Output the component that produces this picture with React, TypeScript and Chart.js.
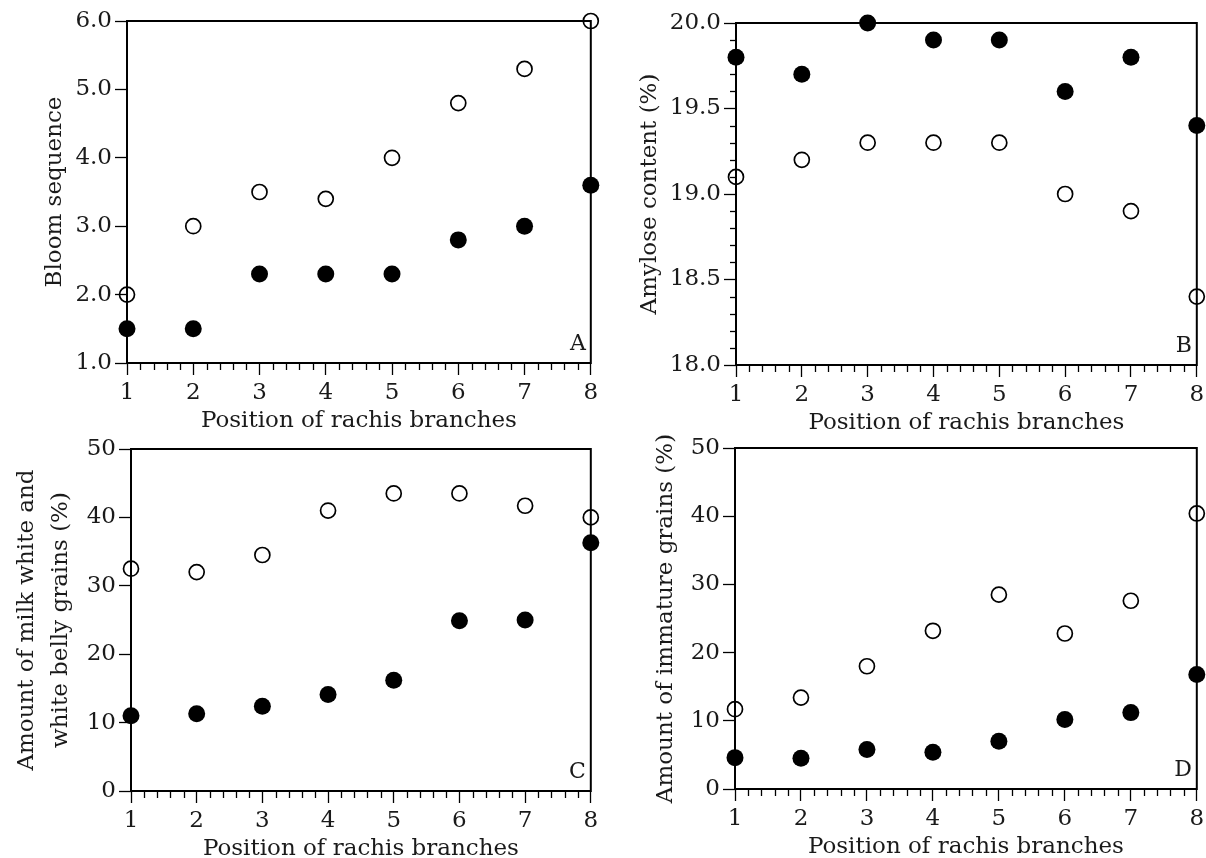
import React, { useEffect, useRef } from "react";
import { Chart, registerables } from "chart.js";

Chart.register(...registerables);

// ---------- data ----------
const positions = [1, 2, 3, 4, 5, 6, 7, 8];
const xTickLabels = ["1", "2", "3", "4", "5", "6", "7", "8"];

const bloomOpen = [2.0, 3.0, 3.5, 3.4, 4.0, 4.8, 5.3, 6.0];
const bloomFilled = [1.5, 1.5, 2.3, 2.3, 2.3, 2.8, 3.0, 3.6];

const amyloseFilled = [19.8, 19.7, 20.0, 19.9, 19.9, 19.6, 19.8, 19.4];
const amyloseOpen = [19.1, 19.2, 19.3, 19.3, 19.3, 19.0, 18.9, 18.4];

const milkOpen = [32.5, 32.0, 34.5, 41.0, 43.5, 43.5, 41.7, 40.0];
const milkFilled = [11.0, 11.3, 12.4, 14.1, 16.2, 24.9, 25.0, 36.3];

const immatureOpen = [11.7, 13.4, 18.0, 23.2, 28.5, 22.8, 27.6, 40.4];
const immatureFilled = [4.6, 4.5, 5.8, 5.4, 7.0, 10.2, 11.2, 16.8];

const xTitle = "Position of rachis branches";
const titleA = "Bloom sequence";
const titleB = "Amylose content (%)";
const titleC = ["Amount of milk white and", "white belly grains (%)"];
const titleD = "Amount of immature grains (%)";

// ---------- styling ----------
const FONT = '"DejaVu Serif", serif';
const FS = 23;
const TEXT = "#1a1a1a";

type Spec = {
  left: number;
  top: number;
  width: number;
  height: number;
  yAxisWidth: number;
  padTop: number;
  padRight: number;
  xAxisHeight: number;
  yMin: number;
  yMax: number;
  yStep: number;
  yDecimals: number;
  yMinorStep: number | null;
  yTitle: string | string[];
  yTitlePad: number;
  yTitleLineHeight: number;
  open: number[];
  filled: number[];
  letter: string;
};

const framePlugin = {
  id: "frame",
  beforeDatasetsDraw(chart: any, _args: any, opts: any) {
    const { ctx, chartArea: a, scales } = chart;
    ctx.save();
    ctx.strokeStyle = "#000";
    ctx.lineWidth = 2;
    ctx.strokeRect(a.left, a.top, a.right - a.left, a.bottom - a.top);

    ctx.lineWidth = 1.3;
    // minor x ticks
    const xs = scales.x;
    const xStep = opts.xMinorStep;
    const nx = Math.round((xs.max - xs.min) / xStep);
    for (let k = 0; k <= nx; k++) {
      if (k % Math.round(1 / xStep) === 0) continue;
      const v = xs.min + k * xStep;
      const px = Math.round(xs.getPixelForValue(v)) + 0.5;
      ctx.beginPath();
      ctx.moveTo(px, a.bottom);
      ctx.lineTo(px, a.bottom + 7);
      ctx.stroke();
    }
    // minor y ticks
    if (opts.yMinorStep) {
      const ys = scales.y;
      const ratio = Math.round(opts.yMajorStep / opts.yMinorStep);
      const ny = Math.round((ys.max - ys.min) / opts.yMinorStep);
      for (let k = 0; k <= ny; k++) {
        if (k % ratio === 0) continue;
        const v = ys.min + k * opts.yMinorStep;
        const py = Math.round(ys.getPixelForValue(v)) + 0.5;
        ctx.beginPath();
        ctx.moveTo(a.left - 6, py);
        ctx.lineTo(a.left, py);
        ctx.stroke();
      }
    }
    // panel letter
    ctx.fillStyle = TEXT;
    ctx.font = `22px ${FONT}`;
    ctx.textAlign = "right";
    ctx.textBaseline = "alphabetic";
    ctx.fillText(opts.letter, a.right - 5, a.bottom - 13);
    ctx.restore();
  },
};

function Panel({ spec }: { spec: Spec }) {
  const ref = useRef<HTMLCanvasElement | null>(null);
  useEffect(() => {
    if (!ref.current) return;
    const chart = new Chart(ref.current, {
      type: "scatter",
      data: {
        datasets: [
          {
            label: "filled",
            data: positions.map((x, i) => ({ x, y: spec.filled[i] })),
            pointRadius: 8.5,
            pointHoverRadius: 8.5,
            backgroundColor: "#000",
            borderColor: "#000",
            borderWidth: 0,
            clip: false,
          } as any,
          {
            label: "open",
            data: positions.map((x, i) => ({ x, y: spec.open[i] })),
            pointRadius: 7.5,
            pointHoverRadius: 7.5,
            backgroundColor: "rgba(255,255,255,0)",
            borderColor: "#000",
            borderWidth: 1.7,
            clip: false,
          } as any,
        ],
      },
      options: {
        animation: false,
        responsive: false,
        events: [],
        layout: {
          padding: { top: spec.padTop, right: spec.padRight, left: 0, bottom: 0 },
        },
        plugins: {
          legend: { display: false },
          tooltip: { enabled: false },
          frame: {
            letter: spec.letter,
            xMinorStep: 0.2,
            yMinorStep: spec.yMinorStep,
            yMajorStep: spec.yStep,
          },
        } as any,
        scales: {
          x: {
            type: "linear",
            min: 1,
            max: 8,
            border: { display: false },
            grid: {
              display: true,
              drawOnChartArea: false,
              drawTicks: true,
              tickLength: 12,
              tickWidth: 1.3,
              tickColor: "#000",
            },
            ticks: {
              stepSize: 1,
              padding: 4,
              color: TEXT,
              font: { family: FONT, size: FS },
              maxRotation: 0,
              callback: (v: any) => xTickLabels[positions.indexOf(Number(v))] ?? "",
            },
            title: {
              display: true,
              text: xTitle,
              color: TEXT,
              font: { family: FONT, size: FS },
              padding: { top: 0, bottom: 8.2 },
            },
            afterFit: (s: any) => {
              s.height = spec.xAxisHeight;
              s.paddingLeft = 0;
              s.paddingRight = 0;
            },
          },
          y: {
            type: "linear",
            min: spec.yMin,
            max: spec.yMax,
            border: { display: false },
            grid: {
              display: true,
              drawOnChartArea: false,
              drawTicks: true,
              tickLength: 12,
              tickWidth: 1.3,
              tickColor: "#000",
            },
            ticks: {
              stepSize: spec.yStep,
              padding: 3,
              color: TEXT,
              font: { family: FONT, size: FS },
              callback: (v: any) => Number(v).toFixed(spec.yDecimals),
            },
            title: {
              display: true,
              text: spec.yTitle,
              color: TEXT,
              font: { family: FONT, size: FS, lineHeight: spec.yTitleLineHeight },
              padding: { top: spec.yTitlePad, bottom: 0 },
            },
            afterFit: (s: any) => {
              s.width = spec.yAxisWidth;
              s.paddingTop = 0;
              s.paddingBottom = 0;
            },
          },
        },
      } as any,
      plugins: [framePlugin as any],
    });
    return () => chart.destroy();
  }, [spec]);
  return (
    <canvas
      ref={ref}
      width={spec.width}
      height={spec.height}
      style={{
        position: "absolute",
        left: spec.left,
        top: spec.top,
        width: spec.width,
        height: spec.height,
        display: "block",
      }}
    />
  );
}

const specA: Spec = {
  left: 0, top: 0, width: 600, height: 443,
  yAxisWidth: 127, padTop: 21, padRight: 9, xAxisHeight: 80,
  yMin: 1, yMax: 6, yStep: 1, yDecimals: 1, yMinorStep: null,
  yTitle: titleA, yTitlePad: 41, yTitleLineHeight: 1.2,
  open: bloomOpen, filled: bloomFilled, letter: "A",
};
const specB: Spec = {
  left: 600, top: 0, width: 606, height: 445,
  yAxisWidth: 136, padTop: 23, padRight: 8, xAxisHeight: 80,
  yMin: 18, yMax: 20, yStep: 0.5, yDecimals: 1, yMinorStep: 0.1,
  yTitle: titleB, yTitlePad: 36, yTitleLineHeight: 1.2,
  open: amyloseOpen, filled: amyloseFilled, letter: "B",
};
const specC: Spec = {
  left: 0, top: 430, width: 600, height: 441,
  yAxisWidth: 131, padTop: 19, padRight: 9, xAxisHeight: 80,
  yMin: 0, yMax: 50, yStep: 10, yDecimals: 0, yMinorStep: null,
  yTitle: titleC, yTitlePad: 10, yTitleLineHeight: 1.48,
  open: milkOpen, filled: milkFilled, letter: "C",
};
const specD: Spec = {
  left: 600, top: 430, width: 606, height: 439,
  yAxisWidth: 135, padTop: 18, padRight: 8, xAxisHeight: 80,
  yMin: 0, yMax: 50, yStep: 10, yDecimals: 0, yMinorStep: null,
  yTitle: titleD, yTitlePad: 52, yTitleLineHeight: 1.2,
  open: immatureOpen, filled: immatureFilled, letter: "D",
};

export default function App() {
  return (
    <div
      style={{
        position: "fixed",
        left: 0,
        top: 0,
        width: 1206,
        height: 858,
        overflow: "hidden",
        background: "#fff",
      }}
    >
      <Panel spec={specA} />
      <Panel spec={specB} />
      <Panel spec={specC} />
      <Panel spec={specD} />
    </div>
  );
}
